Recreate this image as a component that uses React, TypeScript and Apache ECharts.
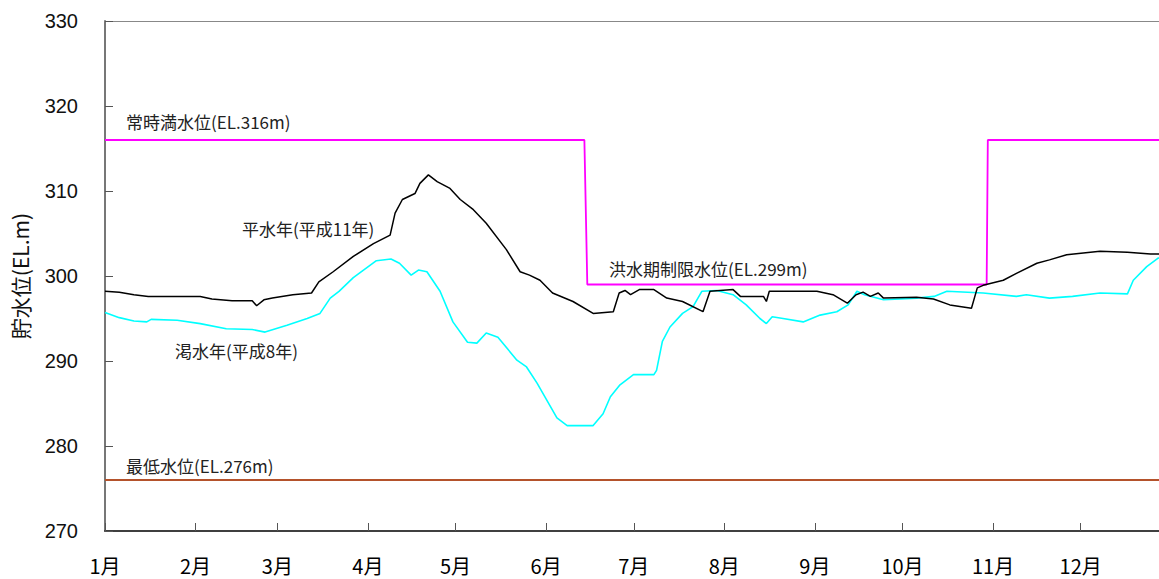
import React, { useEffect, useRef } from "react";
import * as echarts from "echarts";

// x = day of year (0 = Jan 1)
const monthStarts = [0, 31, 59, 90, 120, 151, 181, 212, 243, 273, 304, 334];
const monthLabels = ["1月", "2月", "3月", "4月", "5月", "6月", "7月", "8月", "9月", "10月", "11月", "12月"];
const yTicks = [270, 280, 290, 300, 310, 320, 330];

// 平水年（平成11年）
const normalDays = [0, 4.9, 9.9, 14.8, 32.6, 36.6, 43.5, 50.4, 51.9, 54.4, 57.3, 64.3, 70.7, 73.2, 78.1, 85.0, 91.9, 97.6, 99.3, 101.8, 106.1, 107.8, 110.7, 113.7, 118.1, 121.6, 126.1, 130.5, 137.4, 142.1, 145.3, 148.9, 153.2, 160.2, 167.1, 174.0, 176.0, 178.0, 179.9, 182.9, 187.9, 192.3, 197.7, 204.7, 207.1, 215.0, 217.5, 225.4, 226.4, 227.4, 237.9, 243.7, 249.2, 254.1, 257.1, 259.5, 262.0, 264.7, 266.5, 277.8, 283.6, 289.2, 296.6, 298.6, 300.6, 307.5, 312.0, 319.0, 323.3, 329.2, 340.6, 350.0, 357.9, 365];
const normalLevels = [298.2, 298.1, 297.8, 297.6, 297.6, 297.3, 297.1, 297.1, 296.5, 297.2, 297.4, 297.8, 298.0, 299.3, 300.5, 302.3, 303.8, 304.8, 307.4, 309.0, 309.7, 310.9, 311.9, 311.1, 310.3, 309.0, 307.8, 306.2, 303.1, 300.5, 300.1, 299.5, 298.0, 297.0, 295.6, 295.8, 298.0, 298.3, 297.8, 298.4, 298.4, 297.4, 297.0, 295.8, 298.2, 298.4, 297.6, 297.6, 297.0, 298.2, 298.2, 298.2, 297.8, 296.8, 297.8, 298.1, 297.6, 298.0, 297.4, 297.5, 297.3, 296.6, 296.2, 298.6, 298.9, 299.5, 300.3, 301.5, 301.9, 302.5, 302.9, 302.8, 302.6, 302.6];

// 渇水年（平成8年）
const dryDays = [0, 4.9, 9.9, 14.3, 15.8, 24.7, 32.6, 41.5, 50.4, 54.8, 62.3, 69.2, 73.6, 77.1, 80.1, 85.0, 92.9, 97.9, 100.8, 104.8, 107.3, 110.2, 114.7, 119.1, 124.1, 127.3, 130.5, 134.5, 141.0, 144.3, 147.9, 154.7, 158.2, 167.1, 170.5, 173.0, 176.3, 180.9, 187.9, 188.8, 190.8, 193.4, 197.7, 201.3, 204.3, 209.4, 215.0, 219.5, 224.2, 226.4, 228.4, 232.1, 239.0, 244.8, 250.5, 254.4, 257.4, 260.0, 266.5, 277.8, 283.8, 288.2, 300.6, 312.0, 315.4, 323.3, 331.2, 340.6, 350.0, 352.0, 356.6, 360.5, 365];
const dryLevels = [295.7, 295.1, 294.7, 294.6, 294.9, 294.8, 294.4, 293.8, 293.7, 293.4, 294.2, 295.0, 295.6, 297.4, 298.2, 299.8, 301.8, 302.0, 301.5, 300.1, 300.7, 300.5, 298.2, 294.6, 292.2, 292.1, 293.3, 292.8, 290.1, 289.3, 287.4, 283.3, 282.4, 282.4, 283.8, 285.8, 287.2, 288.4, 288.4, 288.9, 292.3, 294.0, 295.6, 296.4, 298.2, 298.3, 297.8, 296.6, 295.0, 294.4, 295.2, 295.0, 294.6, 295.4, 295.8, 296.6, 298.2, 297.8, 297.2, 297.4, 297.6, 298.2, 298.0, 297.6, 297.8, 297.4, 297.6, 298.0, 297.9, 299.5, 301.1, 302.1, 302.4];

// 常時満水位 / 洪水期制限水位
const limitDays = [0, 164.1, 165.1, 301.8, 302.2, 365];
const limitLevels = [316, 316, 299, 299, 316, 316];

// 最低水位
const minDays = [0, 365];
const minLevels = [276, 276];

// visible end of the year axis (the picture is cut off a few days before Dec 31)
const xVisibleMax = 360.8;

const zip = (xs: number[], ys: number[]) => xs.map((x, i) => [x, ys[i]]);

const CJK = "'Noto Sans CJK JP', 'Noto Sans', sans-serif";

export default function App() {
  const ref = useRef<HTMLDivElement>(null);
  useEffect(() => {
    if (!ref.current) return;
    const chart = echarts.init(ref.current, null, { renderer: "svg" });
    const annot = (text: string, x: number, y: number) => ({
      type: "text",
      x,
      y,
      style: { text, fill: "#222", font: `17px ${CJK}`, textVerticalAlign: "middle" },
    });
    chart.setOption({
      animation: false,
      backgroundColor: "#fff",
      grid: { left: 105, right: 0, top: 21, bottom: 48 },
      xAxis: [
        {
          type: "value",
          min: 0,
          max: xVisibleMax,
          position: "bottom",
          axisLine: { lineStyle: { color: "#000", width: 1.5 } },
          axisTick: {
            inside: true,
            length: 8,
            customValues: monthStarts,
            lineStyle: { color: "#555" },
          },
          axisLabel: {
            customValues: monthStarts,
            formatter: (v: number) => monthLabels[monthStarts.indexOf(Math.round(v))] ?? "",
            fontFamily: CJK,
            fontSize: 20,
            color: "#000",
            margin: 24,
          },
          splitLine: { show: false },
        },
        {
          type: "value",
          min: 0,
          max: xVisibleMax,
          position: "top",
          axisLine: { show: true, lineStyle: { color: "#888", width: 1 } },
          axisTick: { show: false },
          axisLabel: { show: false },
          splitLine: { show: false },
        },
      ],
      yAxis: {
        type: "value",
        min: 270,
        max: 330,
        interval: 10,
        name: "貯水位(EL.m)",
        nameLocation: "middle",
        nameGap: 75,
        nameTextStyle: { fontFamily: CJK, fontSize: 21, color: "#111" },
        axisLine: { show: true, lineStyle: { color: "#777", width: 2 } },
        axisTick: { show: true, inside: true, length: 8, lineStyle: { color: "#555" } },
        axisLabel: {
          customValues: yTicks,
          fontFamily: "'Liberation Sans', Arial, sans-serif",
          fontSize: 20,
          color: "#111",
          margin: 27,
        },
        splitLine: { show: false },
      },
      series: [
        {
          type: "line",
          data: zip(minDays, minLevels),
          showSymbol: false,
          clip: true,
          lineStyle: { color: "#B4522B", width: 2 },
        },
        {
          type: "line",
          data: zip(limitDays, limitLevels),
          showSymbol: false,
          clip: true,
          lineStyle: { color: "#FF00FF", width: 1.8 },
        },
        {
          type: "line",
          data: zip(dryDays, dryLevels),
          showSymbol: false,
          clip: true,
          lineStyle: { color: "#00FFFF", width: 1.6 },
        },
        {
          type: "line",
          data: zip(normalDays, normalLevels),
          showSymbol: false,
          clip: true,
          lineStyle: { color: "#000", width: 1.5 },
        },
      ],
      graphic: [
        annot("常時満水位(EL.316m)", 126, 121),
        annot("洪水期制限水位(EL.299m)", 609, 268),
        annot("最低水位(EL.276m)", 126, 465),
        annot("平水年(平成11年)", 242, 228),
        annot("渇水年(平成8年)", 175, 350),
      ],
    });
    return () => chart.dispose();
  }, []);
  return (
    <div
      ref={ref}
      style={{ position: "absolute", left: 0, top: 0, width: 1159, height: 579, background: "#fff" }}
    />
  );
}
